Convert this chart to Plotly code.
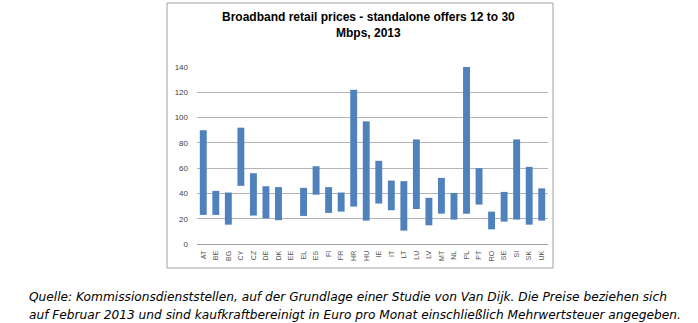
import plotly.graph_objects as go

countries = ["AT", "BE", "BG", "CY", "CZ", "DE", "DK", "EE", "EL", "ES", "FI", "FR", "HR", "HU",
             "IE", "IT", "LT", "LU", "LV", "MT", "NL", "PL", "PT", "RO", "SE", "SI", "SK", "UK"]
price_min = [23, 23, 15.3, 46, 22.5, 20.3, 18.8, None, 22.2, 39, 24.6, 25.6, 29.6, 18.5,
             32, 26.7, 10.6, 27.7, 14.8, 24, 19.3, 24, 31.2, 11.6, 17.7, 19.3, 15.3, 18.5]
price_max = [90, 42, 40.7, 92, 56, 45.7, 45, None, 44.4, 61.5, 45, 40.7, 122, 97,
             65.8, 50.2, 49.7, 82.7, 36.5, 52.3, 40.4, 140, 60, 25.6, 41.2, 82.7, 61, 44]
y_ticks = [0, 20, 40, 60, 80, 100, 120, 140]

title_text = "Broadband retail prices - standalone offers 12 to 30<br>Mbps, 2013"
caption_1 = "Quelle: Kommissionsdienststellen, auf der Grundlage einer Studie von Van Dijk. Die Preise beziehen sich"
caption_2 = "auf Februar 2013 und sind kaufkraftbereinigt in Euro pro Monat einschließlich Mehrwertsteuer angegeben."

spans = [None if (lo is None or hi is None) else hi - lo for lo, hi in zip(price_min, price_max)]

W, H = 698, 323
L, R, T, B = 197, 548, 67, 244  # plot area in pixels


def px(x):
    return (x - L) / (R - L)


def py(y):
    return (B - y) / (B - T)


fig = go.Figure(go.Bar(
    x=countries, y=spans, base=price_min,
    marker=dict(color="#4F81BD", line=dict(width=0)),
    width=0.55,
    hoverinfo="skip",
))

fig.update_layout(
    width=W, height=H,
    margin=dict(l=L, r=W - R, t=T, b=H - B, pad=0),
    paper_bgcolor="white", plot_bgcolor="white",
    showlegend=False,
    font=dict(family="Liberation Sans, Arial, sans-serif", color="#404040"),
    xaxis=dict(
        type="category", range=[-0.5, len(countries) - 0.5],
        tickangle=-90, tickfont=dict(size=7, color="#555555"),
        showgrid=False, showline=True, linecolor="#A0A0A0", linewidth=1,
        ticks="", ticklabelstandoff=3, fixedrange=True,
    ),
    yaxis=dict(
        range=[0, 140], tickvals=y_ticks, ticktext=[str(v) for v in y_ticks],
        tickfont=dict(size=8, color="#404040"),
        showgrid=True, gridcolor="#B4B4B4", gridwidth=1,
        zeroline=False, showline=False, ticks="", ticklabelstandoff=8,
        fixedrange=True,
    ),
    shapes=[dict(type="rect", xref="paper", yref="paper",
                 x0=px(167), x1=px(553), y0=py(268), y1=py(3),
                 line=dict(color="#A0A0A0", width=1), fillcolor="rgba(0,0,0,0)",
                 layer="below")],
    annotations=[
        dict(text="<b>" + title_text + "</b>", xref="paper", yref="paper",
             x=px(368), y=py(25), xanchor="center", yanchor="middle",
             showarrow=False, align="center",
             font=dict(family="Liberation Sans, Arial, sans-serif", size=12, color="#000000")),
        dict(text="<i>" + caption_1 + "</i>", xref="paper", yref="paper",
             x=px(27), y=py(297), xanchor="left", yanchor="middle", showarrow=False,
             font=dict(family="DejaVu Sans, Verdana, sans-serif", size=12.2, color="#000000")),
        dict(text="<i>" + caption_2 + "</i>", xref="paper", yref="paper",
             x=px(27), y=py(315), xanchor="left", yanchor="middle", showarrow=False,
             font=dict(family="DejaVu Sans, Verdana, sans-serif", size=12.2, color="#000000")),
    ],
)

fig.write_html("out.html")
